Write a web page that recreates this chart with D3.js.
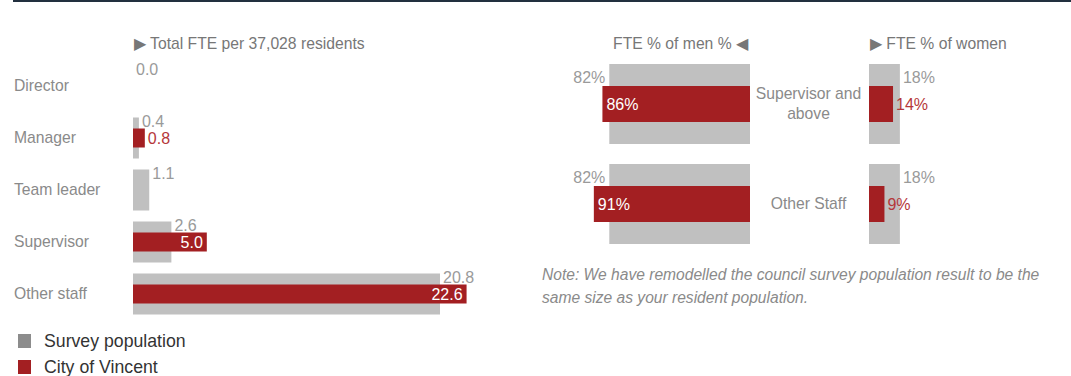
<!DOCTYPE html>
<html>
<head>
<meta charset="utf-8">
<script src="https://cdn.jsdelivr.net/npm/d3@7"></script>
<style>
  html, body { margin: 0; padding: 0; background: #fff; }
  svg { display: block; font-family: "Liberation Sans", Arial, Helvetica, sans-serif; }
</style>
</head>
<body>
<svg id="chart" width="1071" height="376"></svg>
<script>
// ---- Data ----
const categories = ["Director", "Manager", "Team leader", "Supervisor", "Other staff"];
const surveyFTE = [0.0, 0.4, 1.1, 2.6, 20.8];
const cityFTE = [null, 0.8, null, 5.0, 22.6];

const genderCategories = ["Supervisor and above", "Other Staff"];
const menSurvey = [82, 82];
const menCity = [86, 91];
const womenSurvey = [18, 18];
const womenCity = [14, 9];

const leftTitle = "Total FTE per 37,028 residents";
const menTitle = "FTE % of men %";
const womenTitle = "FTE % of women";
const legendLabels = ["Survey population", "City of Vincent"];
const noteLines = [
  "Note: We have remodelled the council survey population result to be the",
  "same size as your resident population."
];

// ---- Styles ----
const GREY = "#c0c0c0";
const RED = "#a31f22";
const RED_TEXT = "#b5373a";
const LABEL_GREY = "#8a8a8a";
const VALUE_GREY = "#9a9a9a";
const HEAD_GREY = "#777";
const FS = 15.7;
const FSV = 16;

const svg = d3.select("#chart");

// top rule
svg.append("rect").attr("x", 13).attr("y", 0).attr("width", 1058).attr("height", 2).attr("fill", "#22303f");

// ---- Left chart ----
const xL = d3.scaleLinear().domain([0, 25]).range([133, 502]);
const yL = d3.scaleBand().domain(categories).range([60, 320]);
const gL = svg.append("g");

gL.append("text").attr("x", 134).attr("y", 44).attr("dy", "0.35em")
  .attr("font-size", FS).attr("fill", HEAD_GREY)
  .text("\u25B6 " + leftTitle);

const rows = categories.map((c, i) => ({ c, s: surveyFTE[i], v: cityFTE[i] }));
const greyH = 41, redH = 19;

gL.selectAll(".cat").data(rows).join("text")
  .attr("x", 14).attr("y", d => yL(d.c) + yL.bandwidth() / 2).attr("dy", "0.35em")
  .attr("font-size", FS).attr("fill", LABEL_GREY).text(d => d.c);

gL.selectAll(".sbar").data(rows).join("rect")
  .attr("x", xL(0)).attr("y", d => yL(d.c) + yL.bandwidth() / 2 - greyH / 2)
  .attr("width", d => xL(d.s) - xL(0)).attr("height", greyH).attr("fill", GREY);

gL.selectAll(".slab").data(rows).join("text")
  .attr("x", d => xL(d.s) + 3).attr("y", d => yL(d.c) + yL.bandwidth() / 2 - redH / 2 - 1.5)
  .attr("font-size", FSV).attr("fill", VALUE_GREY).text(d => d3.format(".1f")(d.s));

const cityRows = rows.filter(d => d.v != null);
gL.selectAll(".cbar").data(cityRows).join("rect")
  .attr("x", xL(0)).attr("y", d => yL(d.c) + yL.bandwidth() / 2 - redH / 2)
  .attr("width", d => xL(d.v) - xL(0)).attr("height", redH).attr("fill", RED);

gL.selectAll(".clab").data(cityRows).join("text")
  .attr("y", d => yL(d.c) + yL.bandwidth() / 2).attr("dy", "0.36em")
  .attr("font-size", FSV)
  .text(d => d3.format(".1f")(d.v))
  .each(function (d) {
    const w = this.getComputedTextLength();
    const bw = xL(d.v) - xL(0);
    const t = d3.select(this);
    if (bw > w + 8) t.attr("x", xL(d.v) - 4).attr("text-anchor", "end").attr("fill", "#fff");
    else t.attr("x", xL(d.v) + 3).attr("fill", RED_TEXT);
  });

// legend
const legendColors = ["#8c8c8c", RED];
const legY = d3.scaleBand().domain(legendLabels).range([328, 380]);
const leg = svg.append("g");
leg.selectAll("rect").data(legendLabels).join("rect")
  .attr("x", 18).attr("y", d => legY(d) + 6).attr("width", 13).attr("height", 14)
  .attr("fill", (d, i) => legendColors[i]);
leg.selectAll("text").data(legendLabels).join("text")
  .attr("x", 44).attr("y", d => legY(d) + 13).attr("dy", "0.35em")
  .attr("font-size", 17.7).attr("fill", "#333").text(d => d);

// ---- Right chart ----
const xMen = d3.scaleLinear().domain([0, 100]).range([750, 578.4]);
const xWomen = d3.scaleLinear().domain([0, 100]).range([869, 1040.6]);
const yR = d3.scaleBand().domain(genderCategories).range([54, 254]);
const gR = svg.append("g");
const gGreyH = 80, gRedH = 36;

gR.append("text").attr("x", 748).attr("y", 44).attr("dy", "0.35em").attr("text-anchor", "end")
  .attr("font-size", FS).attr("fill", HEAD_GREY).text(menTitle + " \u25C0");
gR.append("text").attr("x", 870).attr("y", 44).attr("dy", "0.35em")
  .attr("font-size", FS).attr("fill", HEAD_GREY).text("\u25B6 " + womenTitle);

const gRows = genderCategories.map((c, i) => ({
  c, ms: menSurvey[i], mc: menCity[i], ws: womenSurvey[i], wc: womenCity[i]
}));
const cy = d => yR(d.c) + yR.bandwidth() / 2;

// men bars
gR.selectAll(".msb").data(gRows).join("rect")
  .attr("x", d => xMen(d.ms)).attr("y", d => cy(d) - gGreyH / 2)
  .attr("width", d => xMen(0) - xMen(d.ms)).attr("height", gGreyH).attr("fill", GREY);
gR.selectAll(".mcb").data(gRows).join("rect")
  .attr("x", d => xMen(d.mc)).attr("y", d => cy(d) - gRedH / 2)
  .attr("width", d => xMen(0) - xMen(d.mc)).attr("height", gRedH).attr("fill", RED);
gR.selectAll(".msl").data(gRows).join("text")
  .attr("x", d => xMen(d.ms) - 4).attr("y", d => cy(d) - gRedH / 2 - 3)
  .attr("text-anchor", "end").attr("font-size", FSV).attr("fill", VALUE_GREY)
  .text(d => d.ms + "%");
gR.selectAll(".mcl").data(gRows).join("text")
  .attr("x", d => xMen(d.mc) + 4).attr("y", d => cy(d)).attr("dy", "0.36em")
  .attr("font-size", FSV).attr("fill", "#fff").text(d => d.mc + "%");

// women bars
gR.selectAll(".wsb").data(gRows).join("rect")
  .attr("x", xWomen(0)).attr("y", d => cy(d) - gGreyH / 2)
  .attr("width", d => xWomen(d.ws) - xWomen(0)).attr("height", gGreyH).attr("fill", GREY);
gR.selectAll(".wcb").data(gRows).join("rect")
  .attr("x", xWomen(0)).attr("y", d => cy(d) - gRedH / 2)
  .attr("width", d => xWomen(d.wc) - xWomen(0)).attr("height", gRedH).attr("fill", RED);
gR.selectAll(".wsl").data(gRows).join("text")
  .attr("x", d => xWomen(d.ws) + 3).attr("y", d => cy(d) - gRedH / 2 - 3)
  .attr("font-size", FSV).attr("fill", VALUE_GREY).text(d => d.ws + "%");
gR.selectAll(".wcl").data(gRows).join("text")
  .attr("x", d => xWomen(d.wc) + 3).attr("y", d => cy(d)).attr("dy", "0.36em")
  .attr("font-size", FSV).attr("fill", RED_TEXT).text(d => d.wc + "%");

// category labels (wrapped)
const midX = (xMen(0) + xWomen(0)) / 2 - 1;
gR.selectAll(".gcat").data(gRows).join("text")
  .attr("text-anchor", "middle").attr("font-size", FS).attr("fill", LABEL_GREY)
  .each(function (d) {
    const t = d3.select(this);
    const words = d.c.split(" ");
    const lines = [];
    let line = [];
    const probe = t.append("tspan");
    words.forEach(w => {
      line.push(w);
      probe.text(line.join(" "));
      if (probe.node().getComputedTextLength() > 112 && line.length > 1) {
        line.pop(); lines.push(line.join(" ")); line = [w];
      }
    });
    lines.push(line.join(" "));
    probe.remove();
    const lh = 20;
    lines.forEach((l, i) => {
      t.append("tspan").attr("x", midX)
        .attr("y", cy(d) + (i - (lines.length - 1) / 2) * lh)
        .attr("dy", "0.35em").text(l);
    });
  });

// note
svg.append("g").selectAll("text").data(noteLines).join("text")
  .attr("x", 542).attr("y", (d, i) => 275 + i * 22.5).attr("dy", "0.35em")
  .attr("font-size", 15.6).attr("font-style", "italic").attr("fill", "#8a8a8a")
  .text(d => d);
</script>
</body>
</html>
